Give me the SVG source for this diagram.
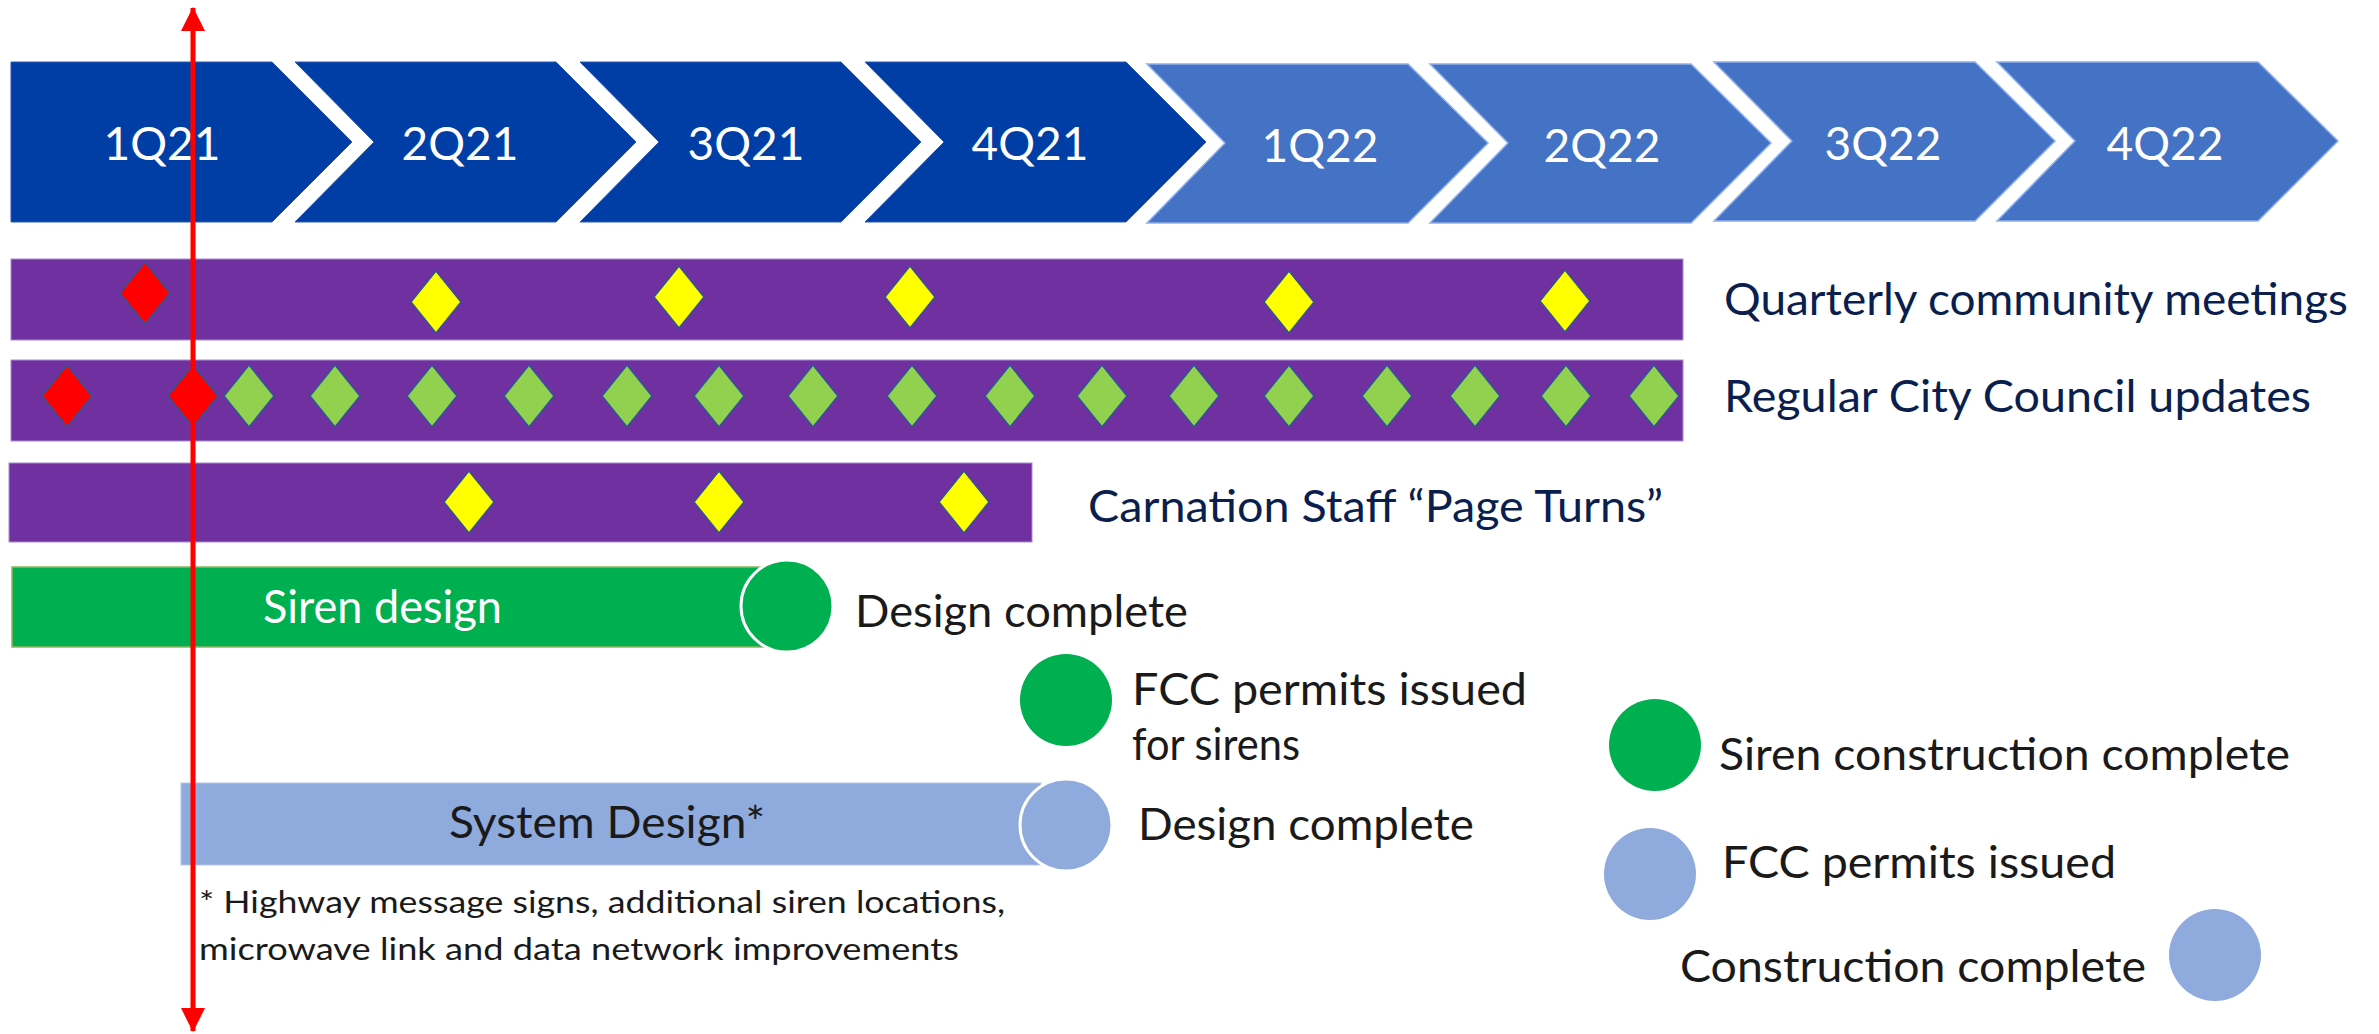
<svg xmlns="http://www.w3.org/2000/svg" xmlns:xlink="http://www.w3.org/1999/xlink" width="2379" height="1034" viewBox="0 0 2379 1034">
<style>
.dark{fill:#003DA5;stroke:#2A58B8;stroke-width:1}
.light{fill:#4472C4;stroke:#8FB0EC;stroke-width:1.5}
.q{font-family:Lato,"Liberation Sans",sans-serif;font-size:46px;fill:#FFFFFF;text-anchor:middle}
.bar{fill:#7030A0;stroke:#A88CCB;stroke-width:1}
.lab{font-family:Lato,"Liberation Sans",sans-serif;font-size:44px;fill:#0B1F4E}
.blk{font-family:Lato,"Liberation Sans",sans-serif;font-size:44px;fill:#1A1A1A}
.note{font-family:Lato,"Liberation Sans",sans-serif;font-size:31px;fill:#1A1A1A}
.red{fill:#FF0000}
.yel{fill:#FFFF00}
.grn{fill:#92D050}
.gc{fill:#00B050}
.lc{fill:#8FAADC}
</style>
<defs>
<polygon id="dia" points="0,-31 25,0 0,31 -25,0" stroke="#2F5597" stroke-width="1.5"/>
<marker id="ah" markerUnits="userSpaceOnUse" markerWidth="24" markerHeight="24" refX="21" refY="11" orient="auto-start-reverse" viewBox="0 0 22 22">
<path d="M0,0 L22,11 L0,22 Z" fill="#FF0000"/>
</marker>
</defs>

<g id="timeline">
<g id="q1-21"><polygon class="dark" points="11,62 272,62 352,142 272,222 11,222"/><text class="q" x="162" y="160">1Q21</text></g>
<g id="q2-21"><polygon class="dark" points="295,62 556,62 636,142 556,222 295,222 374,142"/><text class="q" x="460" y="160">2Q21</text></g>
<g id="q3-21"><polygon class="dark" points="580,62 841,62 921,142 841,222 580,222 659,142"/><text class="q" x="746" y="160">3Q21</text></g>
<g id="q4-21"><polygon class="dark" points="865,62 1126,62 1206,142 1126,222 865,222 944,142"/><text class="q" x="1030" y="160">4Q21</text></g>
<g id="q1-22"><polygon class="light" points="1147,64 1408,64 1488,143 1408,223 1147,223 1225,143"/><text class="q" x="1320" y="162">1Q22</text></g>
<g id="q2-22"><polygon class="light" points="1430,64 1691,64 1771,143 1691,223 1430,223 1508,143"/><text class="q" x="1602" y="162">2Q22</text></g>
<g id="q3-22"><polygon class="light" points="1714,62 1975,62 2055,141 1975,221 1714,221 1792,141"/><text class="q" x="1883" y="160">3Q22</text></g>
<g id="q4-22"><polygon class="light" points="1997,62 2258,62 2338,141 2258,221 1997,221 2075,141"/><text class="q" x="2165" y="160">4Q22</text></g>
</g>

<g id="community-meetings">
<rect class="bar" x="11" y="259" width="1672" height="81"/>
<use xlink:href="#dia" class="red" x="145" y="293"/>
<use xlink:href="#dia" class="yel" x="436" y="302"/>
<use xlink:href="#dia" class="yel" x="679" y="297"/>
<use xlink:href="#dia" class="yel" x="910" y="297"/>
<use xlink:href="#dia" class="yel" x="1289" y="302"/>
<use xlink:href="#dia" class="yel" x="1565" y="301"/>
<text class="lab" x="1724" y="315" textLength="624" lengthAdjust="spacingAndGlyphs">Quarterly community meetings</text>
</g>

<g id="council-updates">
<rect class="bar" x="11" y="360" width="1672" height="81"/>
<use xlink:href="#dia" class="red" x="67" y="396"/>
<use xlink:href="#dia" class="red" x="193" y="396"/>
<use xlink:href="#dia" class="grn" x="249" y="396"/>
<use xlink:href="#dia" class="grn" x="335" y="396"/>
<use xlink:href="#dia" class="grn" x="432" y="396"/>
<use xlink:href="#dia" class="grn" x="529" y="396"/>
<use xlink:href="#dia" class="grn" x="627" y="396"/>
<use xlink:href="#dia" class="grn" x="719" y="396"/>
<use xlink:href="#dia" class="grn" x="813" y="396"/>
<use xlink:href="#dia" class="grn" x="912" y="396"/>
<use xlink:href="#dia" class="grn" x="1010" y="396"/>
<use xlink:href="#dia" class="grn" x="1102" y="396"/>
<use xlink:href="#dia" class="grn" x="1194" y="396"/>
<use xlink:href="#dia" class="grn" x="1289" y="396"/>
<use xlink:href="#dia" class="grn" x="1387" y="396"/>
<use xlink:href="#dia" class="grn" x="1475" y="396"/>
<use xlink:href="#dia" class="grn" x="1566" y="396"/>
<use xlink:href="#dia" class="grn" x="1654" y="396"/>
<text class="lab" x="1724" y="412" textLength="587" lengthAdjust="spacingAndGlyphs">Regular City Council updates</text>
</g>

<g id="page-turns">
<rect class="bar" x="9" y="463" width="1023" height="79"/>
<use xlink:href="#dia" class="yel" x="469" y="502"/>
<use xlink:href="#dia" class="yel" x="719" y="502"/>
<use xlink:href="#dia" class="yel" x="964" y="502"/>
<text class="lab" x="1088" y="522" textLength="575" lengthAdjust="spacingAndGlyphs">Carnation Staff “Page Turns”</text>
</g>

<g id="siren-design">
<rect x="12" y="567" width="760" height="80" fill="#00B050" stroke="#8DB55E" stroke-width="1.5"/>
<text x="263" y="623" font-family="Lato, 'Liberation Sans', sans-serif" font-size="46" fill="#FFFFFF" textLength="239" lengthAdjust="spacingAndGlyphs">Siren design</text>
</g>
<g id="siren-design-complete">
<circle class="gc" cx="787" cy="606" r="46" stroke="#FFFFFF" stroke-width="3"/>
<text class="blk" x="855" y="627" textLength="333" lengthAdjust="spacingAndGlyphs">Design complete</text>
</g>

<g id="fcc-sirens">
<circle class="gc" cx="1066" cy="700" r="46"/>
<text class="blk" x="1132" y="705" textLength="395" lengthAdjust="spacingAndGlyphs">FCC permits issued</text>
<text class="blk" x="1132" y="760" textLength="168" lengthAdjust="spacingAndGlyphs" font-size="46">for sirens</text>
</g>

<g id="system-design">
<rect x="181" y="783" width="860" height="82" fill="#8FAADC" stroke="#B4C7E7" stroke-width="1"/>
<text class="blk" x="449" y="838" textLength="316" lengthAdjust="spacingAndGlyphs">System Design*</text>
<text class="note" x="199" y="913" textLength="806" lengthAdjust="spacingAndGlyphs">* Highway message signs, additional siren locations,</text>
<text class="note" x="199" y="960" textLength="760" lengthAdjust="spacingAndGlyphs">microwave link and data network improvements</text>
</g>
<g id="system-design-complete">
<circle class="lc" cx="1066" cy="825" r="46" stroke="#FFFFFF" stroke-width="3"/>
<text class="blk" x="1138" y="840" textLength="336" lengthAdjust="spacingAndGlyphs">Design complete</text>
</g>

<g id="siren-construction">
<circle class="gc" cx="1655" cy="745" r="46"/>
<text class="blk" x="1719" y="770" textLength="571" lengthAdjust="spacingAndGlyphs">Siren construction complete</text>
</g>
<g id="fcc-permits">
<circle class="lc" cx="1650" cy="874" r="46"/>
<text class="blk" x="1722" y="878" textLength="394" lengthAdjust="spacingAndGlyphs">FCC permits issued</text>
</g>
<g id="construction-complete">
<circle class="lc" cx="2215" cy="955" r="46"/>
<text class="blk" x="1680" y="982" textLength="466" lengthAdjust="spacingAndGlyphs">Construction complete</text>
</g>

<g id="connectors">
<line x1="193" y1="8" x2="193" y2="1031" stroke="#FF0000" stroke-width="5" marker-start="url(#ah)" marker-end="url(#ah)"/>
</g>
</svg>
